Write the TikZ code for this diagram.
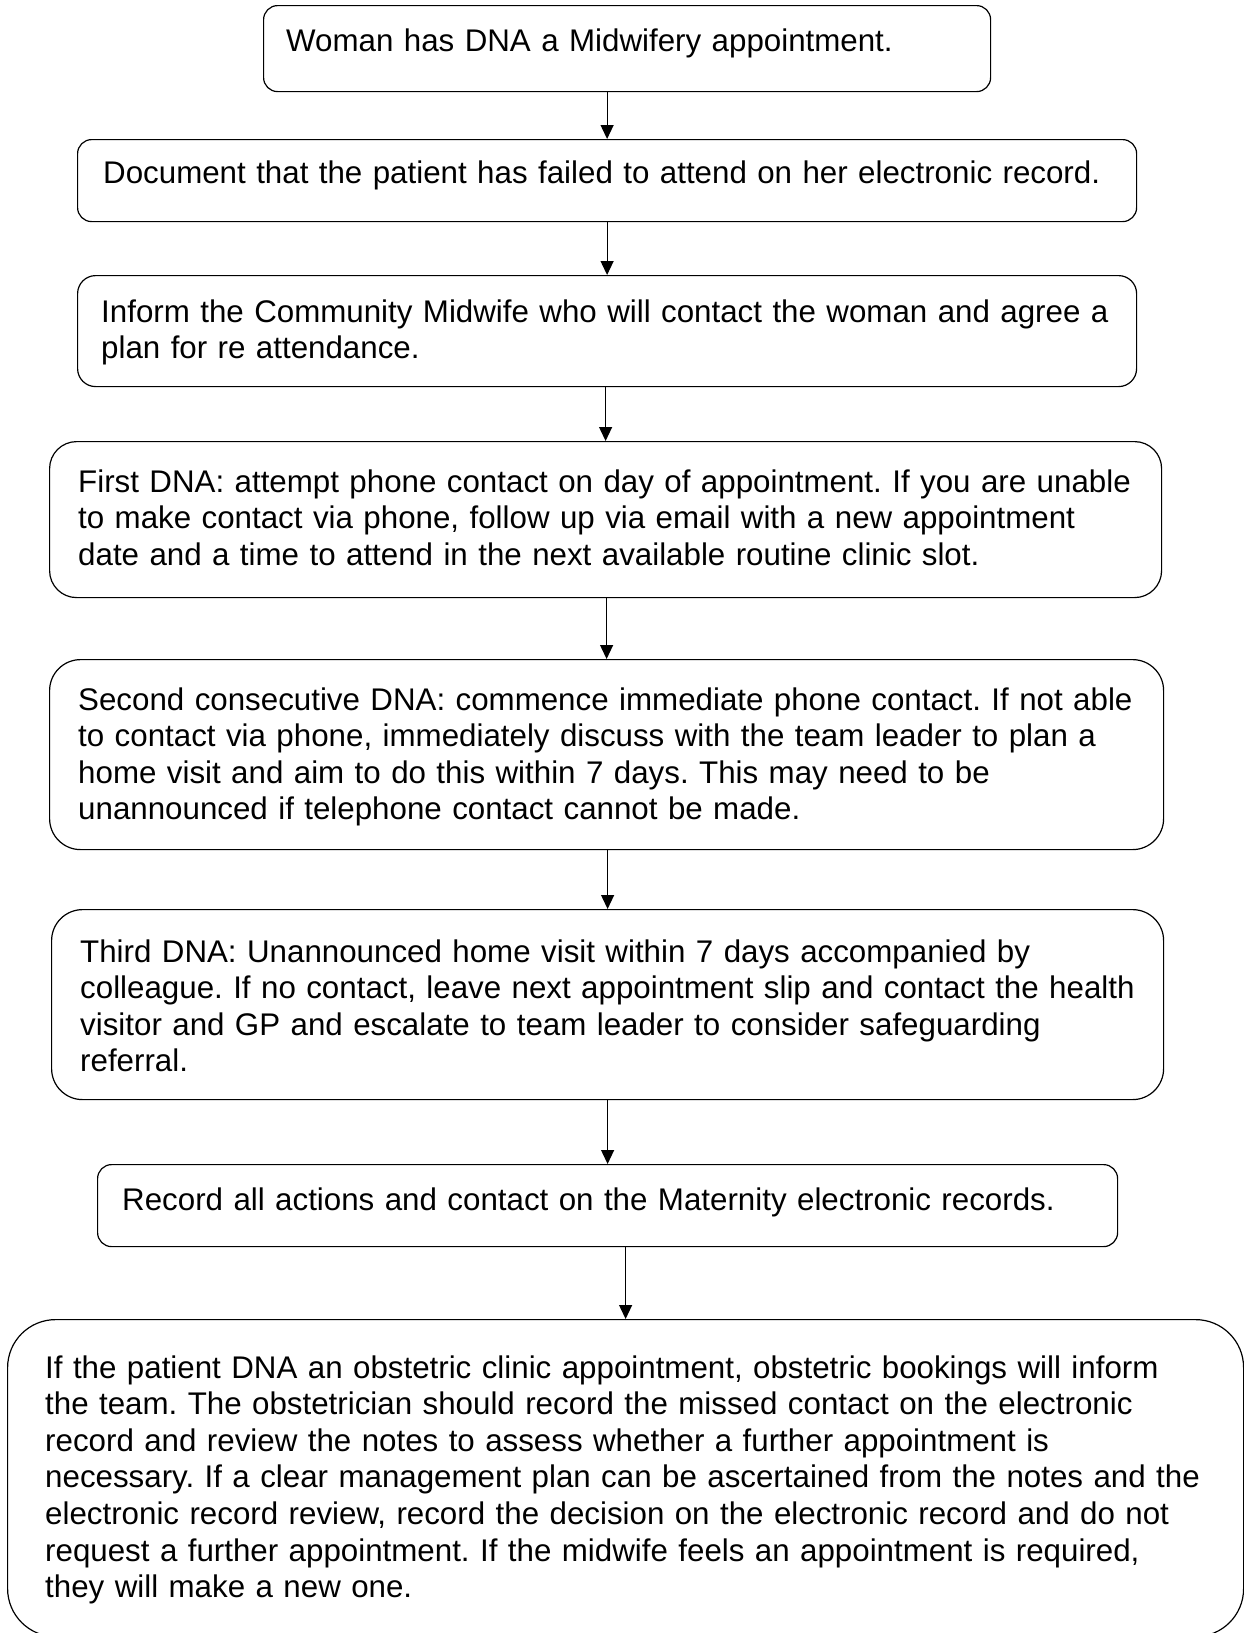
\documentclass[tikz,border=0pt]{standalone}
\usepackage{fontspec}
\setmainfont{Liberation Sans}
\usepackage{tikz}
\usetikzlibrary{positioning, arrows.meta}
\frenchspacing

\begin{document}
\begin{tikzpicture}[x=1pt,y=-1pt,
    stepbox/.style={draw=black,line width=1.2pt,inner sep=0pt,anchor=north west},
    steptext/.style={anchor=base west,inner sep=0pt,align=left,text width=1230pt,
      font=\fontsize{31.3}{36.6}\selectfont},
    flow/.style={-{Triangle[length=14pt,width=13pt]},line width=1.2pt}]
  \useasboundingbox (0,0) rectangle (1244,1633);
  % boxes
  \node[stepbox,minimum width=727pt,minimum height=86pt,rounded corners=14pt](b1) at (263,5){};
  \node[stepbox,minimum width=1059pt,minimum height=82pt,rounded corners=14pt](b2) at (77,139){};
  \node[stepbox,minimum width=1059pt,minimum height=111pt,rounded corners=18pt](b3) at (77,275){};
  \node[stepbox,minimum width=1112pt,minimum height=156pt,rounded corners=27pt](b4) at (49,441){};
  \node[stepbox,minimum width=1114pt,minimum height=190pt,rounded corners=31pt](b5) at (49,659){};
  \node[stepbox,minimum width=1112pt,minimum height=190pt,rounded corners=31pt](b6) at (51,909){};
  \node[stepbox,minimum width=1020pt,minimum height=82pt,rounded corners=14pt](b7) at (97,1164){};
  \node[stepbox,minimum width=1236pt,minimum height=317pt,rounded corners=48pt](b8) at (7,1319){};
  % texts
  \node[steptext](t1) at (286,51){Woman has DNA a Midwifery appointment.};
  \node[steptext](t2) at (103,183){Document that the patient has failed to attend on her electronic record.};
  \node[steptext](t3) at (101,322){Inform the Community Midwife who will contact the woman and agree a\\
    plan for re attendance.};
  \node[steptext](t4) at (78,492){First DNA: attempt phone contact on day of appointment. If you are unable\\
    to make contact via phone, follow up via email with a new appointment\\
    date and a time to attend in the next available routine clinic slot.};
  \node[steptext](t5) at (78,710){Second consecutive DNA: commence immediate phone contact. If not able\\
    to contact via phone, immediately discuss with the team leader to plan a\\
    home visit and aim to do this within 7 days. This may need to be\\
    unannounced if telephone contact cannot be made.};
  \node[steptext](t6) at (80,962){Third DNA: Unannounced home visit within 7 days accompanied by\\
    colleague. If no contact, leave next appointment slip and contact the health\\
    visitor and GP and escalate to team leader to consider safeguarding\\
    referral.};
  \node[steptext](t7) at (122,1210){Record all actions and contact on the Maternity electronic records.};
  \node[steptext](t8) at (45,1378){If the patient DNA an obstetric clinic appointment, obstetric bookings will inform\\
    the team. The obstetrician should record the missed contact on the electronic\\
    record and review the notes to assess whether a further appointment is\\
    necessary. If a clear management plan can be ascertained from the notes and the\\
    electronic record review, record the decision on the electronic record and do not\\
    request a further appointment. If the midwife feels an appointment is required,\\
    they will make a new one.};
  % arrows
  \draw[flow](b1.south -| b2.north)--(b2.north);
  \draw[flow](b2.south -| b3.north)--(b3.north);
  \draw[flow](b3.south -| b4.north)--(b4.north);
  \draw[flow](b4.south -| b5.north)--(b5.north);
  \draw[flow](b5.south -| b6.north)--(b6.north);
  \draw[flow](b6.south -| b7.north)--(b7.north);
  \draw[flow](b7.south -| b8.north)--(b8.north);
\end{tikzpicture}
\end{document}
